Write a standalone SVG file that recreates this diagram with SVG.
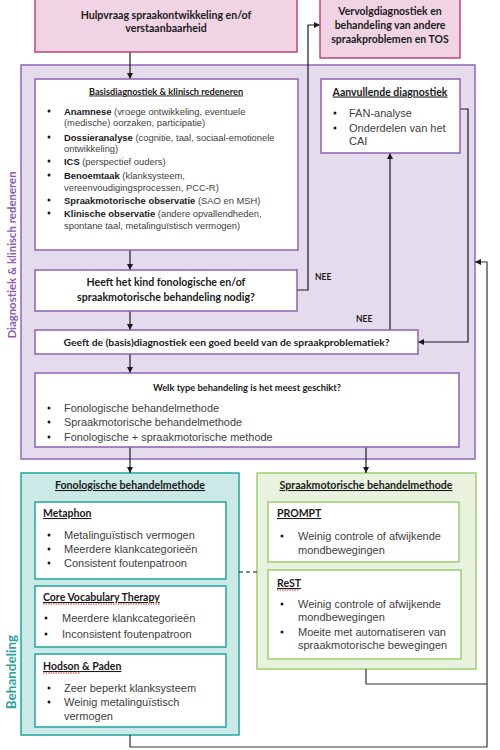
<svg xmlns="http://www.w3.org/2000/svg" width="500" height="750" viewBox="0 0 500 750">
<style>
.t{font-family:Lato,"Liberation Sans",sans-serif;font-weight:bold;fill:#1a1a1a}
.b{font-family:"Liberation Sans",Arial,sans-serif;fill:#404040}
.bb{font-weight:bold;fill:#1a1a1a}
.u{text-decoration:underline}
.m{text-anchor:middle}
.pink{fill:#f1d4e4;stroke:#c1437f;stroke-width:1.5}
.pur{fill:#e4dcec;stroke:#9467b8;stroke-width:1.5}
.wp{fill:#fff;stroke:#8d62b0;stroke-width:1.5}
.teal{fill:#cbe9e7;stroke:#22a69b;stroke-width:1.5}
.wt{fill:#fff;stroke:#22a69b;stroke-width:1.5}
.grn{fill:#e9f2df;stroke:#9bcf6e;stroke-width:1.5}
.wg{fill:#fff;stroke:#9bcf6e;stroke-width:1.5}
.c{stroke:#1a1a1a;stroke-width:1.2;fill:none}
.dot{fill:#1a1a1a}
.sq{stroke:#d02020;stroke-width:0.9;stroke-dasharray:1.5 1;fill:none}
</style>
<defs>
<marker id="ah" markerUnits="userSpaceOnUse" markerWidth="6" markerHeight="6" refX="6" refY="3" orient="auto">
<path d="M0,0 L6,3 L0,6 z" fill="#1a1a1a"/>
</marker>
</defs>

<g id="group-diagnostiek">
<rect class="pur" x="21" y="65" width="454" height="394"/>
<text class="t" font-size="11.4" style="fill:#8a5bb4" text-anchor="middle" transform="translate(16,255) rotate(-90)">Diagnostiek &amp; klinisch redeneren</text>
</g>
<g id="group-behandeling">
<rect class="teal" x="21" y="473" width="218" height="262"/>
<rect class="grn" x="257" y="473" width="219" height="196"/>
<text class="t" font-size="13.5" style="fill:#2aa59b" text-anchor="middle" transform="translate(16,672) rotate(-90)">Behandeling</text>
</g>

<g id="connectors">
<path class="c" d="M130,52 V79" marker-end="url(#ah)"/>
<path class="c" d="M130,250 V270" marker-end="url(#ah)"/>
<path class="c" d="M130,311 V330" marker-end="url(#ah)"/>
<path class="c" d="M130,354 V373" marker-end="url(#ah)"/>
<path class="c" d="M297,290 H308 V25 H320" marker-end="url(#ah)"/>
<path class="c" d="M390,330 V153" marker-end="url(#ah)"/>
<path class="c" d="M460,109 H468 V342 H418" marker-end="url(#ah)"/>
<path class="c" d="M130,447 V473" marker-end="url(#ah)"/>
<path class="c" d="M366,447 V473" marker-end="url(#ah)"/>
<path class="c" d="M130,735 V747 H487 V262 H475" marker-end="url(#ah)" style="stroke:#333"/>
<path class="c" d="M366,669 V684 H487" style="stroke:#333"/>
<path class="c" d="M239,572 H257" stroke-dasharray="4 3"/>
<text class="t" x="315" y="280" font-size="8.5">NEE</text>
<text class="t" x="356" y="322" font-size="8.5">NEE</text>
</g>

<g id="hulpvraag">
<rect class="pink" x="35" y="-2" width="262" height="54"/>
<text class="t m" x="166" y="18.5" font-size="10.6">Hulpvraag spraakontwikkeling en/of</text>
<text class="t m" x="166" y="32" font-size="10.6">verstaanbaarheid</text>
</g>

<g id="vervolg">
<rect class="pink" x="320" y="-2" width="140" height="60"/>
<text class="t m" x="390" y="14.5" font-size="10.5">Vervolgdiagnostiek en</text>
<text class="t m" x="390" y="28.5" font-size="10.5">behandeling van andere</text>
<text class="t m" x="390" y="42.5" font-size="10.5">spraakproblemen en TOS</text>
</g>

<g id="basis">
<rect class="wp" x="35" y="79" width="263" height="171"/>
<text class="t m u" x="166" y="94.5" font-size="9.2">Basisdiagnostiek  &amp; klinisch redeneren</text>
<g class="b" font-size="9.4">
<circle class="dot" cx="49" cy="111" r="1.5"/>
<circle class="dot" cx="49" cy="137" r="1.5"/>
<circle class="dot" cx="49" cy="161" r="1.5"/>
<circle class="dot" cx="49" cy="175" r="1.5"/>
<circle class="dot" cx="49" cy="200" r="1.5"/>
<circle class="dot" cx="49" cy="213" r="1.5"/>
<text x="64" y="114.5"><tspan class="bb">Anamnese</tspan> (vroege ontwikkeling,  eventuele</text>
<text x="64" y="126">(medische) oorzaken,  participatie)</text>
<text x="64" y="140.5"><tspan class="bb">Dossieranalyse</tspan> (cognitie, taal, sociaal-emotionele</text>
<text x="64" y="152">ontwikkeling)</text>
<text x="64" y="164.5"><tspan class="bb">ICS</tspan> (perspectief ouders)</text>
<text x="64" y="178.5"><tspan class="bb">Benoemtaak</tspan> (klanksysteem,</text>
<text x="64" y="190.5">vereenvoudigingsprocessen,   PCC-R)</text>
<text x="64" y="203.5"><tspan class="bb">Spraakmotorische observatie</tspan> (SAO en MSH)</text>
<text x="64" y="216.5"><tspan class="bb">Klinische observatie</tspan> (andere opvallendheden,</text>
<text x="64" y="228.5">spontane taal, metalinguïstisch  vermogen)</text>
</g>
</g>

<g id="aanvullend">
<rect class="wp" x="321" y="79" width="139" height="74"/>
<text class="t m u" x="390" y="95.5" font-size="10.5">Aanvullende diagnostiek</text>
<g class="b" font-size="11">
<circle class="dot" cx="335" cy="113" r="1.5"/>
<circle class="dot" cx="335" cy="128" r="1.5"/>
<text x="349" y="117">FAN-analyse</text>
<text x="349" y="132">Onderdelen van het</text>
<text x="349" y="145">CAI</text>
</g>
</g>

<g id="heeft">
<rect class="wp" x="35" y="270" width="262" height="41"/>
<text class="t m" x="166" y="285.5" font-size="10.6">Heeft het kind fonologische en/of</text>
<text class="t m" x="166" y="300.5" font-size="10.6">spraakmotorische behandeling nodig?</text>
</g>

<g id="geeft">
<rect class="wp" x="35" y="330" width="383" height="24"/>
<text class="t m" x="226.5" y="345.5" font-size="10.3">Geeft de (basis)diagnostiek een goed beeld van de spraakproblematiek?</text>
</g>

<g id="welk">
<rect class="wp" x="35" y="373" width="424" height="74"/>
<text class="t m" x="247" y="390.5" font-size="9.3">Welk type behandeling is het meest geschikt?</text>
<g class="b" font-size="10.9">
<circle class="dot" cx="49" cy="408" r="1.5"/>
<circle class="dot" cx="49" cy="422" r="1.5"/>
<circle class="dot" cx="49" cy="437" r="1.5"/>
<text x="64" y="411.5">Fonologische behandelmethode</text>
<text x="64" y="425.5">Spraakmotorische behandelmethode</text>
<text x="64" y="440.5">Fonologische + spraakmotorische methode</text>
</g>
</g>

<g id="fonologisch">
<text class="t m u" x="130" y="489" font-size="10.6">Fonologische behandelmethode</text>
</g>

<g id="metaphon">
<rect class="wt" x="35" y="502" width="191" height="77"/>
<text class="t u" x="43" y="517" font-size="10.5">Metaphon</text>
<g class="b" font-size="11">
<circle class="dot" cx="49" cy="535" r="1.5"/>
<circle class="dot" cx="49" cy="549" r="1.5"/>
<circle class="dot" cx="49" cy="563" r="1.5"/>
<text x="64" y="539">Metalinguïstisch vermogen</text>
<text x="64" y="553">Meerdere klankcategorieën</text>
<text x="64" y="567">Consistent foutenpatroon</text>
</g>
</g>

<g id="core">
<rect class="wt" x="35" y="586" width="191" height="61"/>
<text class="t u" x="43" y="601" font-size="10.5">Core Vocabulary Therapy</text>
<path class="sq" d="M43,604 H160"/>
<g class="b" font-size="11">
<circle class="dot" cx="46" cy="618" r="1.5"/>
<circle class="dot" cx="46" cy="634" r="1.5"/>
<text x="62" y="622">Meerdere klankcategorieën</text>
<text x="62" y="638">Inconsistent foutenpatroon</text>
</g>
</g>

<g id="hodson">
<rect class="wt" x="35" y="654" width="191" height="73"/>
<text class="t u" x="43" y="670" font-size="10.5">Hodson &amp; Paden</text>
<path class="sq" d="M43,673 H80"/>
<g class="b" font-size="11">
<circle class="dot" cx="49" cy="688" r="1.5"/>
<circle class="dot" cx="49" cy="702" r="1.5"/>
<text x="64" y="692">Zeer beperkt klanksysteem</text>
<text x="64" y="706">Weinig metalinguïstisch</text>
<text x="64" y="720">vermogen</text>
</g>
</g>

<g id="spraakmotorisch">
<text class="t m u" x="366" y="489" font-size="10.6">Spraakmotorische behandelmethode</text>
</g>

<g id="prompt">
<rect class="wg" x="268" y="502" width="191" height="60"/>
<text class="t u" x="277" y="517" font-size="10.5">PROMPT</text>
<g class="b" font-size="11">
<circle class="dot" cx="282" cy="536" r="1.5"/>
<text x="298" y="540">Weinig controle of afwijkende</text>
<text x="298" y="554">mondbewegingen</text>
</g>
</g>

<g id="rest">
<rect class="wg" x="268" y="570" width="193" height="89"/>
<text class="t u" x="277" y="587" font-size="10.5">ReST</text>
<path class="sq" d="M277,590 H299"/>
<g class="b" font-size="11">
<circle class="dot" cx="282" cy="604" r="1.5"/>
<circle class="dot" cx="282" cy="632" r="1.5"/>
<text x="298" y="608">Weinig controle of afwijkende</text>
<text x="298" y="621">mondbewegingen</text>
<text x="298" y="636">Moeite met automatiseren van</text>
<text x="298" y="649">spraakmotorische bewegingen</text>
</g>
</g>
</svg>
